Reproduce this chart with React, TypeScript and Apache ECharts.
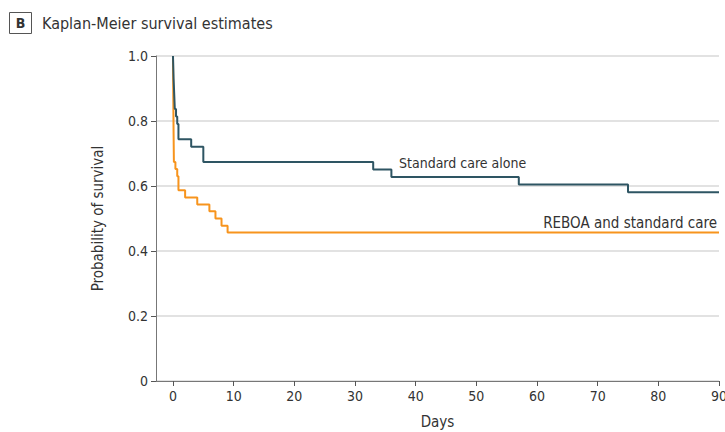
import React, { useEffect, useRef } from "react";
import * as echarts from "echarts";

const standardDays = [0, 0.1, 0.2, 0.3, 0.5, 0.7, 0.9, 3, 5, 33, 36, 57, 75, 90];
const standardSurv = [1.0, 0.93, 0.884, 0.837, 0.814, 0.791, 0.744, 0.721, 0.674, 0.651, 0.628, 0.605, 0.581, 0.581];
const rebaDays = [0, 0.05, 0.1, 0.15, 0.4, 0.7, 0.9, 2, 4, 6, 7, 8, 9, 90];
const rebaSurv = [1.0, 0.87, 0.76, 0.674, 0.652, 0.63, 0.587, 0.565, 0.543, 0.522, 0.5, 0.478, 0.457, 0.457];
const xTicks = [0, 10, 20, 30, 40, 50, 60, 70, 80, 90];
const seriesNames = ["Standard care alone", "REBOA and standard care"];

const FONT = "'DejaVu Sans Condensed', 'Liberation Sans Narrow', sans-serif";
const TEXT = "#333333";

export default function App() {
  const ref = useRef<HTMLDivElement>(null);
  useEffect(() => {
    if (!ref.current) return;
    const chart = echarts.init(ref.current, undefined, { renderer: "svg" });
    const zip = (xs: number[], ys: number[]) => xs.map((x, i) => [x, ys[i]]);
    chart.setOption({
      animation: false,
      textStyle: { fontFamily: FONT },
      grid: { left: 156, right: 6, top: 56, bottom: 51, outerBoundsMode: "none", containLabel: false },
      xAxis: {
        type: "value",
        min: -2.8,
        max: 90,
        name: "Days",
        nameLocation: "middle",
        nameGap: 33,
        nameTextStyle: { fontSize: 15, color: TEXT, fontFamily: FONT },
        axisLine: { show: true, onZero: false, lineStyle: { color: "#777", width: 1 } },
        axisTick: { show: true, customValues: xTicks, length: 5, lineStyle: { color: "#555" } },
        axisLabel: { customValues: xTicks, fontSize: 14, color: TEXT, margin: 8, fontFamily: FONT },
        splitLine: { show: false },
      },
      yAxis: {
        type: "value",
        min: 0,
        max: 1,
        interval: 0.2,
        name: "Probability of survival",
        nameLocation: "middle",
        nameGap: 51,
        nameTextStyle: { fontSize: 15, color: TEXT, fontFamily: FONT },
        axisLine: { show: true, onZero: false, lineStyle: { color: "#777", width: 1 } },
        axisTick: { show: true, length: 5, lineStyle: { color: "#555" } },
        axisLabel: {
          fontSize: 14,
          color: TEXT,
          margin: 8,
          fontFamily: FONT,
          formatter: (v: number) => (v === 0 ? "0" : v.toFixed(1)),
        },
        splitLine: { show: true, lineStyle: { color: "#d9d9d9", width: 1.5 } },
      },
      series: [
        {
          name: seriesNames[0],
          type: "line",
          step: "end",
          symbol: "none",
          data: zip(standardDays, standardSurv),
          lineStyle: { color: "#2e5563", width: 2 },
          z: 3,
        },
        {
          name: seriesNames[1],
          type: "line",
          step: "end",
          symbol: "none",
          data: zip(rebaDays, rebaSurv),
          lineStyle: { color: "#f7941d", width: 2 },
          z: 2,
        },
      ],
      graphic: [
        { type: "rect", shape: { x: 9.5, y: 12.5, width: 22, height: 21 }, style: { fill: "none", stroke: "#555", lineWidth: 1 } },
        { type: "text", x: 20.5, y: 23, style: { text: "B", fontSize: 14, fontWeight: "bold", fill: TEXT, align: "center", verticalAlign: "middle", fontFamily: FONT } },
        { type: "text", x: 42, y: 23, style: { text: "Kaplan-Meier survival estimates", fontSize: 16, fill: TEXT, verticalAlign: "middle", fontFamily: FONT } },
        { type: "text", x: 399, y: 163, style: { text: seriesNames[0], fontSize: 14, fill: TEXT, verticalAlign: "middle", fontFamily: FONT } },
        { type: "text", x: 717, y: 223, style: { text: seriesNames[1], fontSize: 15, fill: TEXT, align: "right", verticalAlign: "middle", fontFamily: FONT } },
      ],
    });
    return () => chart.dispose();
  }, []);
  return <div ref={ref} style={{ width: 725, height: 432, position: "absolute", left: 0, top: 0 }} />;
}
